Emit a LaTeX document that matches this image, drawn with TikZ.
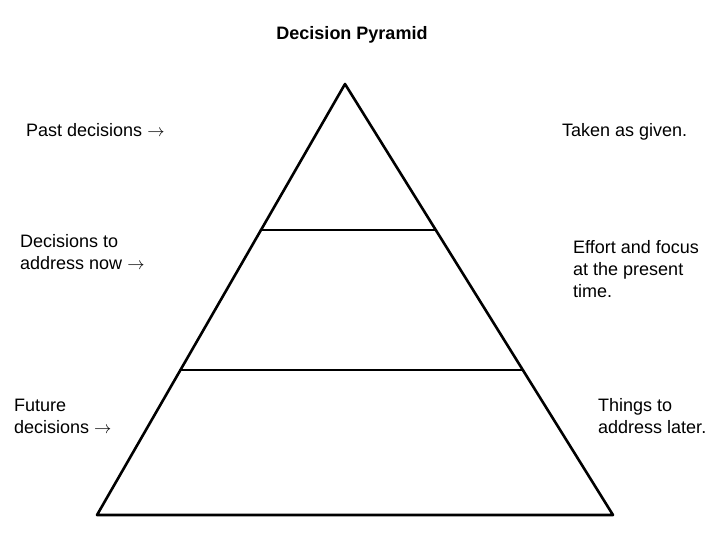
\documentclass[tikz,border=0pt]{standalone}
\usepackage{fontspec}
\setmainfont{Liberation Sans}
\newcommand{\toarrow}{\(\rightarrow\)}
\usetikzlibrary{calc}

\begin{document}
\begin{tikzpicture}[x=1pt, y=-1pt, line/.style = {line width=2.6pt, line cap=round, line join=round}, label/.style = {anchor=base west, align=left, inner sep=0pt, font=\fontsize{18}{22}\selectfont}, title/.style = {anchor=base, inner sep=0pt, font=\fontsize{18}{22}\selectfont\bfseries}]
	\useasboundingbox (0,0) rectangle (718,536);
	% pyramid
	\coordinate (apex) at (345,84);
	\coordinate (bl) at (97,515);
	\coordinate (br) at (613,515);
	\coordinate (ul) at ($(apex)!0.339!(bl)$);
	\coordinate (ur) at ($(apex)!0.339!(br)$);
	\coordinate (ll) at ($(apex)!0.664!(bl)$);
	\coordinate (lr) at ($(apex)!0.664!(br)$);
	\draw[line] (apex) -- (bl) -- (br) -- cycle;
	\draw[line] (ul) -- (ur);
	\draw[line] (ll) -- (lr);
	% texts (base = last line)
	\node[title] (head) at (352,39) {Decision Pyramid};
	\node[label] (past) at (26,136) {Past decisions \toarrow};
	\node[label] (given) at (562,136) {Taken as given.};
	\node[label] (now) at (20,269) {Decisions to\\address now \toarrow};
	\node[label] (effort) at (573,297) {Effort and focus\\at the present\\time.};
	\node[label] (future) at (14,433) {Future\\decisions \toarrow};
	\node[label] (later) at (598,433) {Things to\\address later.};
\end{tikzpicture}
\end{document}
